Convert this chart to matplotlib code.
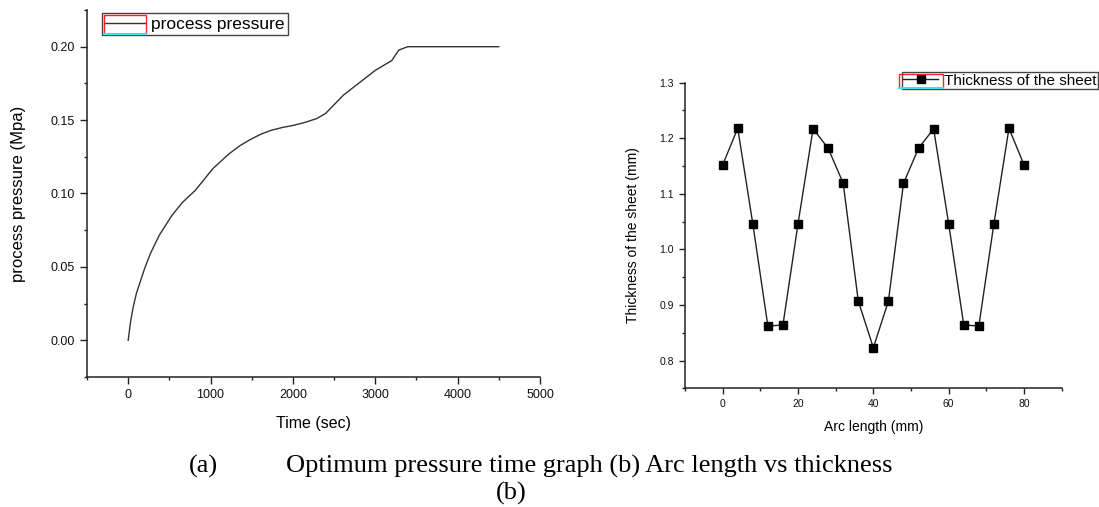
import matplotlib
matplotlib.use('Agg')
import matplotlib.pyplot as plt
from matplotlib.patches import Rectangle
from matplotlib.ticker import MultipleLocator, FormatStrFormatter

# (a) process pressure vs time
time_sec = [0, 30, 61, 100, 139, 200, 269, 378, 530, 660, 812, 900, 1029, 1224, 1354,
            1484, 1615, 1745, 1875, 2005, 2150, 2287, 2396, 2613, 3003, 3199, 3286, 3394, 4500]
pressure_mpa = [0.0, 0.013, 0.0227, 0.032, 0.0386, 0.049, 0.059, 0.0716, 0.085, 0.094,
                0.102, 0.108, 0.117, 0.127, 0.1325, 0.1368, 0.1405, 0.1432, 0.145, 0.1464,
                0.1485, 0.151, 0.1545, 0.167, 0.184, 0.1905, 0.1977, 0.2, 0.2]

# (b) thickness along the arc
arc_mm = [0, 4, 8, 12, 16, 20, 24, 28, 32, 36, 40, 44, 48, 52, 56, 60, 64, 68, 72, 76, 80]
thickness_mm = [1.152, 1.218, 1.046, 0.862, 0.864, 1.046, 1.217, 1.182, 1.119, 0.907,
                0.823, 0.907, 1.119, 1.182, 1.217, 1.046, 0.864, 0.862, 1.046, 1.218, 1.152]

caption_1 = 'Optimum pressure time graph (b) Arc length vs thickness'

plt.rcParams['font.family'] = ['Liberation Sans', 'DejaVu Sans']
ink = '#222222'

fig = plt.figure(figsize=(10.99, 5.07), dpi=100)
W, H = 1099, 507

def px_axes(l, t, r, b):
    return fig.add_axes([l / W, 1 - b / H, (r - l) / W, (b - t) / H])

def style(ax, major, minor):
    for s in ['top', 'right']:
        ax.spines[s].set_visible(False)
    for s in ['left', 'bottom']:
        ax.spines[s].set_linewidth(1.1)
        ax.spines[s].set_color(ink)
    ax.tick_params(which='major', direction='out', length=major, width=1, color=ink,
                   labelcolor='#111111', pad=4)
    ax.tick_params(which='minor', direction='out', length=minor, width=1, color=ink)

# ---- left panel
ax1 = px_axes(87, 10, 540, 377)
ax1.plot(time_sec, pressure_mpa, color='#333333', lw=1.0, label='process pressure')
ax1.set_xlim(-500, 5000)
ax1.set_ylim(-0.025, 0.225)
ax1.xaxis.set_major_locator(MultipleLocator(1000))
ax1.xaxis.set_minor_locator(MultipleLocator(500))
ax1.yaxis.set_major_locator(MultipleLocator(0.05))
ax1.yaxis.set_minor_locator(MultipleLocator(0.025))
ax1.yaxis.set_major_formatter(FormatStrFormatter('%.2f'))
style(ax1, 5, 2.5)
for lab in ax1.get_xticklabels() + ax1.get_yticklabels():
    lab.set_fontsize(9)
ax1.set_xlabel('Time (sec)', fontsize=11.5, va='top')
ax1.xaxis.set_label_coords(0.5, -0.106)
ax1.set_ylabel('process pressure (Mpa)', fontsize=12)
ax1.yaxis.set_label_coords(-0.135, 0.5)
leg1 = ax1.legend(loc='upper left', bbox_to_anchor=(101.7 / W, 1 - 13.3 / H),
                  bbox_transform=fig.transFigure, borderaxespad=0, fancybox=False,
                  edgecolor='#444444', framealpha=1, fontsize=12.5, handlelength=2.3,
                  handletextpad=0.35, borderpad=0.2)
leg1.get_frame().set_linewidth(1.0)

# ---- right panel
ax2 = px_axes(685, 82.7, 1061.7, 388.3)
ax2.plot(arc_mm, thickness_mm, color='#222222', lw=1.0, marker='s', ms=5.8,
         mfc='black', mec='black', label='Thickness of the sheet')
ax2.set_xlim(-10, 90)
ax2.set_ylim(0.75, 1.3)
ax2.xaxis.set_major_locator(MultipleLocator(20))
ax2.xaxis.set_minor_locator(MultipleLocator(10))
ax2.yaxis.set_major_locator(MultipleLocator(0.1))
ax2.yaxis.set_minor_locator(MultipleLocator(0.05))
ax2.yaxis.set_major_formatter(FormatStrFormatter('%.1f'))
style(ax2, 4, 2.2)
for lab in ax2.get_xticklabels() + ax2.get_yticklabels():
    lab.set_fontsize(7.5)
ax2.set_xlabel('Arc length (mm)', fontsize=10, va='top')
ax2.xaxis.set_label_coords(0.5, -0.104)
ax2.set_ylabel('Thickness of the sheet (mm)', fontsize=10)
ax2.yaxis.set_label_coords(-0.119, 0.5)
leg2 = ax2.legend(loc='upper left', bbox_to_anchor=(901.7 / W, 1 - 72.3 / H),
                  bbox_transform=fig.transFigure, borderaxespad=0, fancybox=False,
                  edgecolor='#444444', framealpha=1, fontsize=11, handlelength=2.3,
                  handletextpad=0.35, borderpad=0.1, markerscale=0.9)
leg2.get_frame().set_linewidth(1.0)

# red / cyan boxes around the legend keys (as in the Origin export)
fig.canvas.draw()
inv = fig.transFigure.inverted()
for leg in [leg1, leg2]:
    hb = leg.legend_handles[0].get_window_extent()
    fb = leg.get_frame().get_window_extent()
    x0, y0 = inv.transform((hb.x0 - 1, fb.y0 + 1.5))
    x1, y1 = inv.transform((hb.x1 + 1, fb.y1 - 1.5))
    fig.patches.append(Rectangle((x0, y0), x1 - x0, y1 - y0, fill=False, ec='#ff2020',
                                 lw=1.0, transform=fig.transFigure, figure=fig))
    fig.lines.append(plt.Line2D([x0, x1], [y0, y0], color='#40e0f0', lw=1.5,
                                transform=fig.transFigure, figure=fig))

# caption
serif = ['Liberation Serif', 'DejaVu Serif']
fig.text(189 / W, 1 - 473 / H, '(a)', family=serif, fontsize=19, va='baseline', ha='left')
fig.text(286 / W, 1 - 473 / H, caption_1, family=serif, fontsize=19, va='baseline', ha='left')
fig.text(511 / W, 1 - 500 / H, '(b)', family=serif, fontsize=19, va='baseline', ha='center')

fig.savefig('out.png', dpi=100)
